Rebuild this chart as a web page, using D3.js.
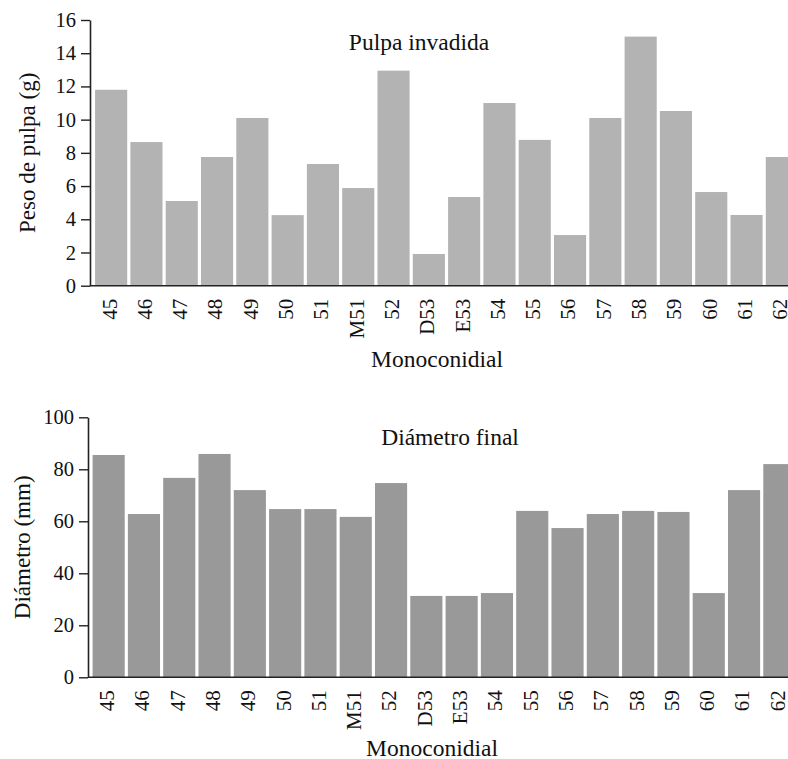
<!DOCTYPE html>
<html>
<head>
<meta charset="utf-8">
<script src="https://cdn.jsdelivr.net/npm/d3@7"></script>
<style>
  body { margin: 0; background: #fff; }
  text { font-family: "Liberation Serif", "Times New Roman", serif; fill: #111; }
</style>
</head>
<body>
<div id="chart"></div>
<script>
const categories = ["45", "46", "47", "48", "49", "50", "51", "M51", "52", "D53",
  "E53", "54", "55", "56", "57", "58", "59", "60", "61", "62"]
const pulpValues = [11.8, 8.65, 5.1, 7.75, 10.1, 4.25, 7.33, 5.88, 12.95, 1.91,
  5.34, 11.0, 8.78, 3.05, 10.1, 15.0, 10.52, 5.64, 4.26, 7.75]
const diameterValues = [85.5, 62.8, 76.7, 85.9, 72.0, 64.7, 64.7, 61.7, 74.7, 31.3,
  31.3, 32.4, 64.0, 57.4, 62.8, 64.0, 63.6, 32.4, 72.0, 82.0]
const pulpTicks = [0, 2, 4, 6, 8, 10, 12, 14, 16]
const diameterTicks = [0, 20, 40, 60, 80, 100]

const width = 788
const height = 759

const svg = d3
  .select("#chart")
  .append("svg")
  .attr("width", width)
  .attr("height", height)

function panel(opts) {
  const g = svg.append("g")

  const x = d3
    .scaleBand()
    .domain(categories)
    .range([opts.x0, opts.x0 + 706])
    .paddingInner(0.09)
    .paddingOuter(0.045)

  const y = d3.scaleLinear().domain(opts.domain).range([opts.yBottom, opts.yTop])

  g.append("g")
    .selectAll("rect")
    .data(opts.values)
    .join("rect")
    .attr("x", (d, i) => x(categories[i]))
    .attr("width", x.bandwidth())
    .attr("y", (d) => y(d))
    .attr("height", (d) => y(0) - y(d))
    .attr("fill", opts.color)

  // y axis
  const yAxis = g
    .append("g")
    .attr("transform", `translate(${opts.axisX},0)`)
    .call(d3.axisLeft(y).tickValues(opts.ticks).tickSize(9).tickSizeOuter(0).tickPadding(5))
  yAxis.select(".domain").attr("stroke", "#222").attr("stroke-width", 1.6)
  yAxis.selectAll(".tick line").attr("stroke", "#222").attr("stroke-width", 1.4)
  yAxis
    .selectAll(".tick text")
    .style("font-family", '"Liberation Serif", serif')
    .style("font-size", "20.5px")
    .attr("fill", "#111")

  // baseline
  g.append("line")
    .attr("x1", opts.axisX)
    .attr("x2", width)
    .attr("y1", y(0))
    .attr("y2", y(0))
    .attr("stroke", "#222")
    .attr("stroke-width", 1.6)

  // category labels
  g.append("g")
    .selectAll("text")
    .data(categories)
    .join("text")
    .attr("transform", (d) => `translate(${x(d) + x.bandwidth() / 2 - 2},${y(0) + 13}) rotate(-90)`)
    .attr("text-anchor", "end")
    .attr("dy", "0.35em")
    .style("font-size", "21px")
    .text((d) => d)

  g.append("text")
    .attr("x", opts.titleX)
    .attr("y", opts.titleY)
    .attr("text-anchor", "middle")
    .style("font-size", "23.5px")
    .text(opts.title)

  g.append("text")
    .attr("transform", `translate(${opts.yLabelX},${(opts.yBottom + opts.yTop) / 2}) rotate(-90)`)
    .attr("text-anchor", "middle")
    .attr("dy", "0.35em")
    .style("font-size", "23px")
    .text(opts.yLabel)

  g.append("text")
    .attr("x", opts.xLabelX)
    .attr("y", opts.xLabelY)
    .attr("text-anchor", "middle")
    .style("font-size", "23.5px")
    .text("Monoconidial")
}

panel({
  values: pulpValues,
  domain: [0, 16],
  ticks: pulpTicks,
  yTop: 20,
  yBottom: 285.7,
  axisX: 90,
  x0: 93.5,
  color: "#b3b3b3",
  title: "Pulpa invadida",
  titleX: 419,
  titleY: 50,
  yLabel: "Peso de pulpa (g)",
  yLabelX: 27,
  xLabelX: 437,
  xLabelY: 366.5
})

panel({
  values: diameterValues,
  domain: [0, 100],
  ticks: diameterTicks,
  yTop: 417.3,
  yBottom: 677.3,
  axisX: 88,
  x0: 91,
  color: "#999999",
  title: "Diámetro final",
  titleX: 450,
  titleY: 445,
  yLabel: "Diámetro (mm)",
  yLabelX: 22,
  xLabelX: 432,
  xLabelY: 756
})
</script>
</body>
</html>
